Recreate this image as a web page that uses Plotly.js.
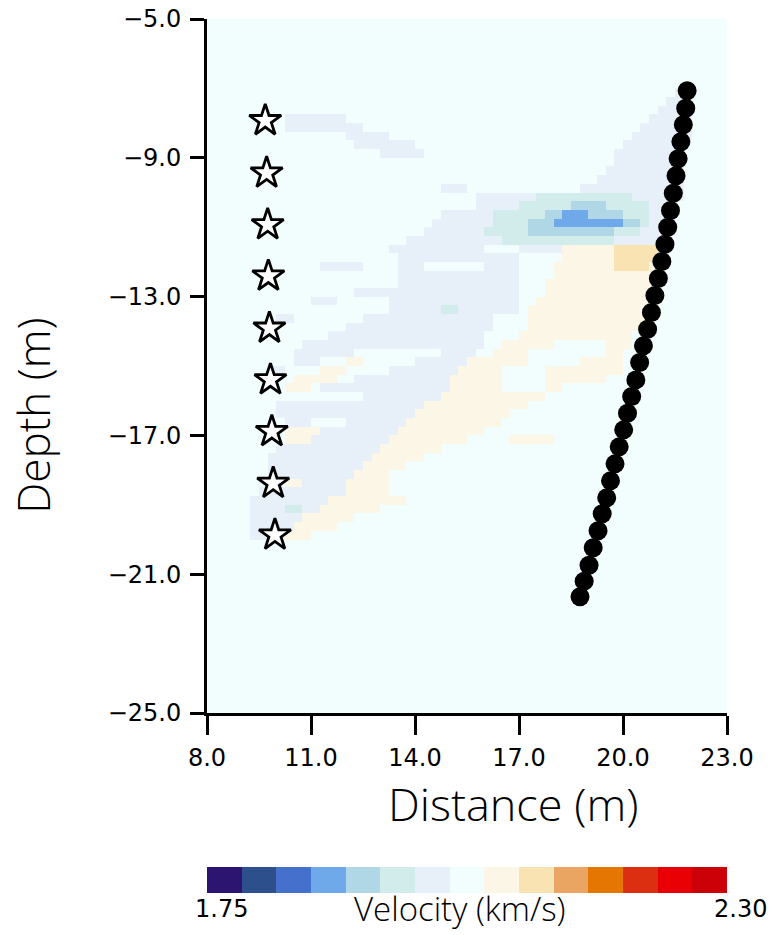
<!DOCTYPE html>
<html><head><meta charset="utf-8">
<script src="https://cdn.plot.ly/plotly-3.0.1.min.js"></script>
<style>html,body{margin:0;padding:0;background:#fff;}</style>
</head><body>
<div id="chart" style="width:773px;height:935px;"></div>
<script>
// ---- velocity classes (km/s) ----
const classCodes    = ['.',   'l',  't',  'b',   'B',   'c',  'o'];
const classVelocity = [2.025, 1.99, 1.95, 1.915, 1.878, 2.06, 2.10];

// ---- colour levels of the bar (1.75 .. 2.30 km/s) ----
const levelColors = ['#2b1571','#2d4f8b','#4571cd','#6fa9e9','#afd7e5','#d1ecea','#e7eff8',
                     '#f2fefe','#fbf6e6','#fae3b3','#eba562','#e67602','#dc2f12','#e80005','#cc0007'];
const velocityMin = 1.75, velocityMax = 2.30;

// ---- velocity map: 60 columns (x 8..23 m) x 80 rows (depth -5..-25 m), 0.25 m cells.
// each row: "column:class" change points, background '.' before the first one.
const mapRows = [
 "","","","","","","","",
 "54:l 56:.",                                   // 8
 "53:l 56:.",
 "52:l 56:.",                                   // 10
 "9:l 16:. 51:l 56:.",
 "9:l 18:. 50:l 56:.",
 "16:l 21:. 49:l 56:.",
 "17:l 24:. 48:l 55:.",
 "20:l 25:. 47:l 55:.",                         // 15
 "47:l 55:.",
 "46:l 55:.",
 "45:l 55:.",
 "27:l 30:. 43:l 55:.",
 "31:l 38:t 49:l 55:.",                         // 20
 "31:l 36:t 42:b 46:t 51:l 54:.",
 "27:l 33:t 39:b 41:B 44:b 48:t 51:l 54:.",
 "26:l 33:t 37:b 40:B 48:b 50:t 51:l 54:.",
 "25:l 32:t 37:b 47:t 50:l 54:.",
 "23:l 34:t 47:l 53:.",                         // 25
 "21:l 32:. 36:l 41:c 47:o 52:.",
 "22:l 36:. 41:c 47:o 52:.",
 "13:l 18:. 22:l 25:. 32:l 36:. 40:c 47:o 51:c 52:.",
 "22:l 36:. 40:c 52:.",
 "22:l 36:. 39:c 52:.",                         // 30
 "17:l 36:. 39:c 52:.",
 "12:l 15:. 21:l 36:. 38:c 52:.",
 "21:l 27:t 29:l 36:. 37:c 51:.",
 "8:l 10:. 18:l 33:. 37:c 51:.",
 "16:l 33:. 37:c 50:.",                         // 35
 "14:l 32:. 36:c 49:.",
 "11:l 32:. 34:c 40:. 46:c 49:.",
 "10:l 17:. 27:l 31:. 33:c 37:. 46:c 48:.",
 "10:l 13:. 16:c 18:. 24:l 30:c 37:. 43:c 48:.",
 "7:l 9:. 13:c 16:. 21:l 29:c 34:. 39:c 48:.",  // 40
 "10:c 15:. 17:l 28:c 34:. 39:c 46:.",
 "9:c 12:. 13:l 28:c 34:. 39:c 41:.",
 "18:l 27:c 39:.",
 "8:l 25:c 37:.",
 "8:l 24:c 35:.",                               // 45
 "9:l 12:. 16:l 23:c 34:.",
 "9:c 13:l 22:c 32:.",
 "9:c 12:l 21:c 30:. 35:c 40:.",
 "8:l 20:c 27:.",
 "7:l 19:c 25:.",                               // 50
 "7:l 18:c 23:.",
 "7:l 17:c 21:.",
 "9:c 11:l 16:c 21:.",
 "6:l 16:c 21:.",
 "5:l 14:c 23:.",                               // 55
 "5:l 9:t 11:l 13:c 20:.",
 "5:l 11:c 17:.",
 "5:l 10:c 15:.",
 "5:l 7:. 8:c 12:.",
 "","","","","","","","","","",                 // 60-69
 "","","","","","","","","",""                  // 70-79
];
const nCols = 60;

// ---- sources (stars) and receivers (dots) ----
const sourceX     = [9.68, 9.72, 9.75, 9.77, 9.80, 9.83, 9.87, 9.91, 9.96];
const sourceDepth = [-7.93, -9.44, -10.93, -12.41, -13.91, -15.40, -16.89, -18.38, -19.87];
const receiverX = [21.85, 21.81, 21.74, 21.67, 21.59, 21.53, 21.45, 21.37, 21.29, 21.21, 21.12,
                   21.02, 20.92, 20.82, 20.71, 20.59, 20.48, 20.37, 20.25, 20.13, 20.02, 19.89,
                   19.77, 19.64, 19.53, 19.40, 19.28, 19.14, 19.02, 18.88, 18.76];
const receiverDepth = [-7.07, -7.57, -8.05, -8.54, -9.03, -9.52, -10.02, -10.52, -11.00, -11.49, -11.99,
                       -12.48, -12.97, -13.46, -13.94, -14.42, -14.90, -15.40, -15.88, -16.36, -16.84, -17.33,
                       -17.82, -18.31, -18.80, -19.26, -19.75, -20.24, -20.74, -21.20, -21.65];

// ---- axis ticks ----
const xTicks = [8, 11, 14, 17, 20, 23];
const yTicks = [-5, -9, -13, -17, -21, -25];

// decode map rows into velocity values
const z = mapRows.map(row => {
  const codes = new Array(nCols).fill('.');
  row.split(/\s+/).filter(Boolean).forEach(tok => {
    const [c, code] = tok.split(':');
    for (let j = parseInt(c, 10); j < nCols; j++) codes[j] = code;
  });
  return codes.map(code => classVelocity[classCodes.indexOf(code)]);
});

// stepped colour scale
const colorscale = [];
levelColors.forEach((col, k) => {
  colorscale.push([k / levelColors.length, col]);
  colorscale.push([(k + 1) / levelColors.length, col]);
});

const FONT = 'DejaVu Sans, Liberation Sans, sans-serif';
const THIN = 'Open Sans, DejaVu Sans, sans-serif';

const traces = [
  {
    type: 'heatmap', z: z, x0: 8.125, dx: 0.25, y0: -5.125, dy: -0.25,
    zmin: velocityMin, zmax: velocityMax, colorscale: colorscale, zsmooth: false,
    hoverinfo: 'skip',
    colorbar: {
      orientation: 'h', x: 0.5, xanchor: 'center', y: -0.2406, yanchor: 'middle',
      len: 1, lenmode: 'fraction', thickness: 26, xpad: 0, ypad: 0,
      outlinewidth: 0, showticklabels: false, ticks: ''
    }
  },
  {
    type: 'scatter', mode: 'markers', x: receiverX, y: receiverDepth, cliponaxis: false,
    marker: {symbol: 'circle', size: 19, color: '#000000', line: {width: 0}}
  },
  {
    type: 'scatter', mode: 'markers', x: sourceX, y: sourceDepth, cliponaxis: false,
    marker: {symbol: 'star', size: 24, color: '#ffffff', line: {width: 2.8, color: '#000000'}}
  }
];

const axisCommon = {
  showgrid: false, zeroline: false, showline: true, linewidth: 3, linecolor: '#000',
  ticks: 'outside', tickwidth: 3, tickcolor: '#000', tickformat: '.1f',
  tickfont: {family: FONT, size: 24, color: '#000'}
};

const layout = {
  width: 773, height: 935,
  margin: {l: 207, r: 46, t: 19, b: 222},
  paper_bgcolor: '#ffffff', plot_bgcolor: '#ffffff',
  showlegend: false,
  font: {family: FONT, color: '#000'},
  xaxis: Object.assign({}, axisCommon, {range: [8, 23], tickvals: xTicks, ticklen: 19, ticklabelstandoff: 2}),
  yaxis: Object.assign({}, axisCommon, {range: [-25, -5], tickvals: yTicks, ticklen: 14, ticklabelstandoff: 4}),
  annotations: [
    {text: 'Distance (m)', xref: 'paper', yref: 'paper', x: 0.588, y: -0.1297, xanchor: 'center', yanchor: 'middle',
     showarrow: false, font: {family: THIN, size: 45, color: '#000', weight: 300}},
    {text: 'Depth (m)', xref: 'paper', yref: 'paper', x: -0.335, y: 0.428, xanchor: 'center', yanchor: 'middle',
     textangle: -90, showarrow: false, font: {family: THIN, size: 44, color: '#000', weight: 300}},
    {text: '1.75', xref: 'paper', yref: 'paper', x: 0.027, y: -0.2824, xanchor: 'center', yanchor: 'middle',
     showarrow: false, font: {family: FONT, size: 24, color: '#000'}},
    {text: 'Velocity (km/s)', xref: 'paper', yref: 'paper', x: 0.4865, y: -0.2824, xanchor: 'center', yanchor: 'middle',
     showarrow: false, font: {family: THIN, size: 33, color: '#000', weight: 300}},
    {text: '2.30', xref: 'paper', yref: 'paper', x: 1.025, y: -0.2824, xanchor: 'center', yanchor: 'middle',
     showarrow: false, font: {family: FONT, size: 24, color: '#000'}}
  ]
};

Plotly.newPlot('chart', traces, layout, {staticPlot: true, displayModeBar: false});
</script>
</body></html>
